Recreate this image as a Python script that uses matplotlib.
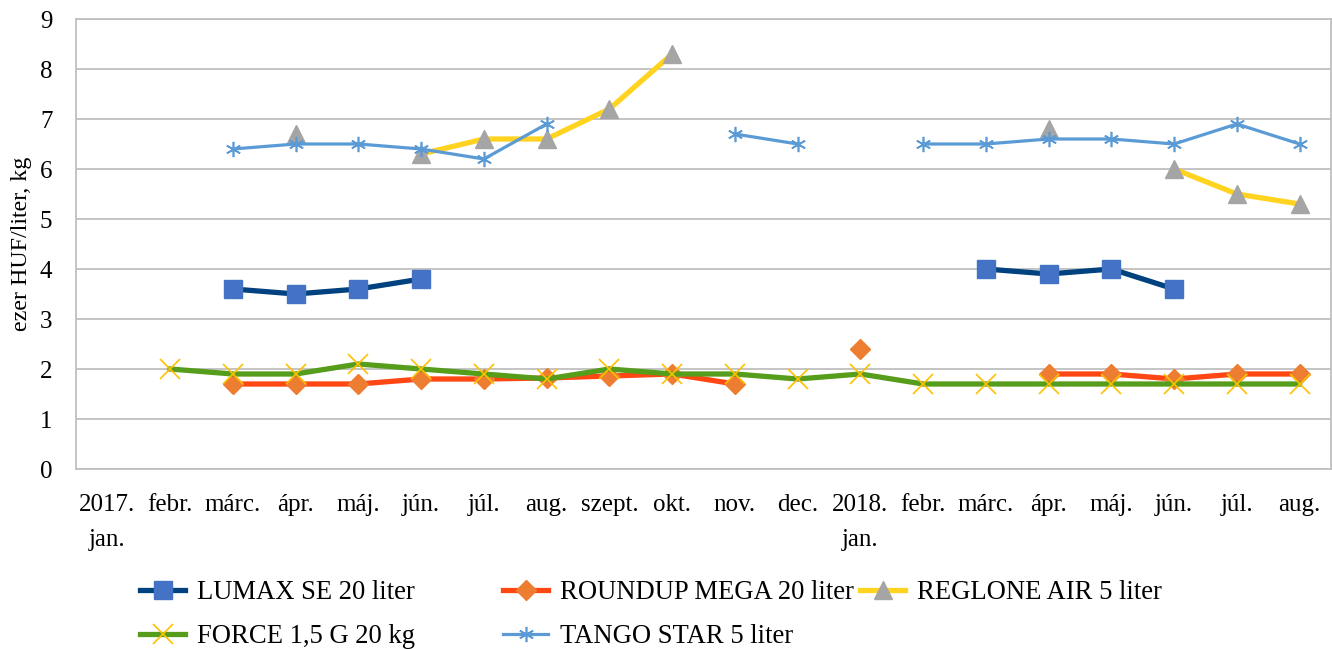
import numpy as np
from matplotlib import pyplot as plt

nan = np.nan

# Month labels (2017 jan .. 2018 aug)
months = ["2017.\njan.", "febr.", "márc.", "ápr.", "máj.", "jún.", "júl.", "aug.",
          "szept.", "okt.", "nov.", "dec.", "2018.\njan.", "febr.", "márc.", "ápr.",
          "máj.", "jún.", "júl.", "aug."]

# Prices, ezer HUF/liter or kg (nan = no data)
lumax = [nan, nan, 3.6, 3.5, 3.6, 3.8, nan, nan, nan, nan, nan, nan,
         nan, nan, 4.0, 3.9, 4.0, 3.6, nan, nan]
roundup = [nan, nan, 1.7, 1.7, 1.7, 1.8, 1.8, 1.82, 1.86, 1.9, 1.7, nan,
           2.4, nan, nan, 1.9, 1.9, 1.8, 1.9, 1.9]
reglone = [nan, nan, nan, 6.7, nan, 6.3, 6.6, 6.6, 7.2, 8.3, nan, nan,
           nan, nan, nan, 6.8, nan, 6.0, 5.5, 5.3]
force = [nan, 2.0, 1.9, 1.9, 2.1, 2.0, 1.9, 1.8, 2.0, 1.9, 1.9, 1.8,
         1.9, 1.7, 1.7, 1.7, 1.7, 1.7, 1.7, 1.7]
tango = [nan, nan, 6.4, 6.5, 6.5, 6.4, 6.2, 6.9, nan, nan, 6.7, 6.5,
         nan, 6.5, 6.5, 6.6, 6.6, 6.5, 6.9, 6.5]

plt.rcParams['font.family'] = ['Liberation Serif', 'DejaVu Serif']

fig = plt.figure(figsize=(13.32, 6.49), dpi=100)
ax = fig.add_axes([76/1332, 1 - 469/649, 1255/1332, 450/649])

x = np.arange(len(months))

# Series in Excel drawing order
ax.plot(x, lumax, color='#00427F', lw=3.8, marker='s', ms=13.5,
        mfc='#4472C4', mec='#4472C4', label="LUMAX SE 20 liter", zorder=3)
ax.plot(x, roundup, color='#FF4713', lw=3.8, marker='D', ms=10,
        mfc='#ED7D31', mec='#ED7D31', label="ROUNDUP MEGA 20 liter", zorder=3)
ax.plot(x, reglone, color='#FFD320', lw=3.8, marker='^', ms=13,
        mfc='#A5A5A5', mec='#A5A5A5', label="REGLONE AIR 5 liter", zorder=3)
ax.plot(x, force, color='#579D1C', lw=3.8, marker='x', ms=14, mew=1.2,
        mec='#FFC000', label="FORCE 1,5 G 20 kg", zorder=3)
ax.plot(x, tango, color='#5B9BD5', lw=2.3, marker=(6, 2, 0), ms=11, mew=1.2,
        mec='#5B9BD5', label="TANGO STAR 5 liter", zorder=3)

ax.set_xlim(-0.5, len(months) - 0.5)
ax.set_ylim(0, 9)
ax.set_yticks(range(10))
ax.set_xticks(x)
ax.set_xticklabels(months, fontsize=18, linespacing=1.75)
ax.tick_params(axis='y', labelsize=18, length=0, pad=17)
ax.tick_params(axis='x', length=0, pad=18)
ax.grid(axis='y', color='#BFBFBF', lw=1.3)
ax.set_axisbelow(True)
for s in ax.spines.values():
    s.set_color('#BFBFBF')
    s.set_linewidth(1.3)

ax.set_ylabel("ezer HUF/liter, kg", fontsize=17.3)
ax.yaxis.set_label_coords((32 - 76)/1255, 0.5)

# Legend: one block per column so spacing follows the original
h, l = ax.get_legend_handles_labels()
cols = [([h[0], h[3]], [l[0], l[3]], 140), ([h[1], h[4]], [l[1], l[4]], 503),
        ([h[2]], [l[2]], 860)]
for hh, ll, px in cols:
    fig.legend(hh, ll, loc='upper left', bbox_to_anchor=(px/1332, 1 - 580/649),
               frameon=False, fontsize=19.2, handlelength=1.7, handletextpad=0.45,
               labelspacing=0.72, borderpad=0, borderaxespad=0)

fig.savefig("out.png", dpi=100)
